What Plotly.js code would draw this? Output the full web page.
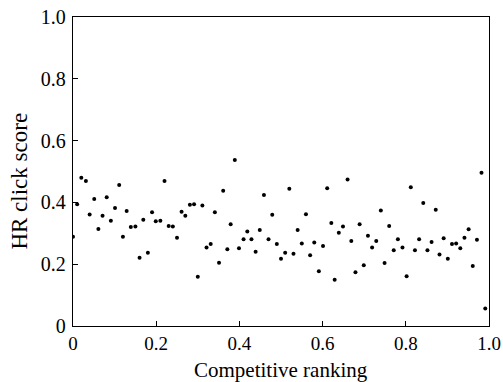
<!DOCTYPE html>
<html>
<head>
<meta charset="utf-8">
<script src="https://cdn.plot.ly/plotly-3.0.1.min.js"></script>
<style>html,body{margin:0;padding:0;background:#fff;}#chart{width:503px;height:382px;}</style>
</head>
<body>
<div id="chart"></div>
<script>
const ranking = [
  0.000, 0.010, 0.020, 0.031, 0.040, 0.051, 0.061, 0.071, 0.081, 0.091,
  0.101, 0.111, 0.120, 0.129, 0.139, 0.150, 0.160, 0.169, 0.180, 0.190,
  0.199, 0.210, 0.220, 0.230, 0.240, 0.250, 0.261, 0.270, 0.281, 0.291,
  0.300, 0.311, 0.321, 0.331, 0.341, 0.351, 0.361, 0.371, 0.379, 0.389,
  0.399, 0.410, 0.419, 0.429, 0.439, 0.449, 0.459, 0.470, 0.479, 0.490,
  0.500, 0.510, 0.520, 0.530, 0.540, 0.550, 0.560, 0.570, 0.580, 0.591,
  0.601, 0.611, 0.621, 0.629, 0.639, 0.649, 0.660, 0.669, 0.679, 0.689,
  0.699, 0.709, 0.719, 0.729, 0.740, 0.749, 0.760, 0.771, 0.781, 0.792,
  0.802, 0.812, 0.822, 0.832, 0.842, 0.852, 0.862, 0.872, 0.881, 0.891,
  0.901, 0.911, 0.921, 0.931, 0.941, 0.951, 0.961, 0.971, 0.982, 0.991
];
const hrScore = [
  0.289, 0.394, 0.480, 0.469, 0.361, 0.411, 0.314, 0.357, 0.417, 0.341,
  0.382, 0.456, 0.289, 0.372, 0.320, 0.322, 0.221, 0.344, 0.237, 0.368,
  0.339, 0.341, 0.469, 0.324, 0.322, 0.286, 0.370, 0.357, 0.392, 0.394,
  0.159, 0.390, 0.254, 0.265, 0.368, 0.205, 0.438, 0.248, 0.329, 0.537,
  0.252, 0.281, 0.306, 0.281, 0.240, 0.311, 0.424, 0.281, 0.360, 0.265,
  0.218, 0.237, 0.444, 0.234, 0.311, 0.267, 0.362, 0.229, 0.270, 0.177,
  0.259, 0.446, 0.333, 0.150, 0.302, 0.322, 0.474, 0.275, 0.174, 0.329,
  0.197, 0.292, 0.254, 0.275, 0.374, 0.204, 0.324, 0.245, 0.281, 0.254,
  0.161, 0.449, 0.245, 0.281, 0.398, 0.245, 0.272, 0.376, 0.231, 0.284,
  0.218, 0.265, 0.267, 0.252, 0.286, 0.313, 0.194, 0.279, 0.496, 0.057
];
const tickVals = [0, 0.2, 0.4, 0.6, 0.8, 1.0];
const tickText = ['0', '0.2', '0.4', '0.6', '0.8', '1.0'];
const xTitle = 'Competitive ranking';
const yTitle = 'HR click score';

const fam = 'Liberation Serif, Times New Roman, serif';
const axisCommon = {
  range: [0, 1], tickmode: 'array', tickvals: tickVals, ticktext: tickText,
  ticks: 'inside', ticklen: 5, tickwidth: 1, tickcolor: '#000',
  showline: true, linecolor: '#000', linewidth: 1.2, mirror: true,
  showgrid: false, zeroline: false, fixedrange: true
};

Plotly.newPlot('chart', [{
  x: ranking, y: hrScore, type: 'scatter', mode: 'markers',
  marker: {color: '#000', size: 4}, hoverinfo: 'skip'
}], {
  width: 503, height: 382,
  margin: {l: 73, r: 14, t: 17, b: 56},
  paper_bgcolor: '#fff', plot_bgcolor: '#fff',
  showlegend: false,
  font: {family: fam, color: '#000', size: 20},
  xaxis: Object.assign({}, axisCommon, {tickfont: {family: fam, size: 19, color: '#000'}}),
  yaxis: Object.assign({}, axisCommon, {tickfont: {family: fam, size: 20, color: '#000'}, ticklabelstandoff: 2}),
  annotations: [
    {text: xTitle, xref: 'paper', yref: 'paper', x: 0.5, y: -0.142,
     xanchor: 'center', yanchor: 'middle', showarrow: false,
     font: {family: fam, size: 21, color: '#000'}},
    {text: yTitle, xref: 'paper', yref: 'paper', x: -0.1286, y: 0.469,
     xanchor: 'center', yanchor: 'middle', showarrow: false, textangle: -90,
     font: {family: fam, size: 23, color: '#000'}}
  ]
}, {displayModeBar: false, staticPlot: true});
</script>
</body>
</html>
